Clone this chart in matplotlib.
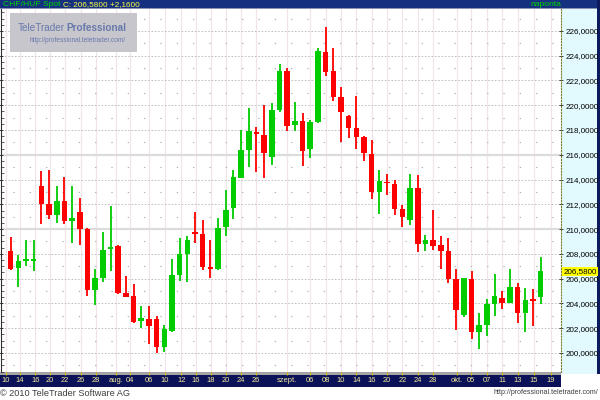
import numpy as np
import matplotlib
matplotlib.use("Agg")
import matplotlib.pyplot as plt
from matplotlib.patches import Rectangle
from matplotlib.ticker import MultipleLocator
from matplotlib.transforms import blended_transform_factory

plt.rcParams['font.family'] = ['Liberation Sans', 'DejaVu Sans']

# daily OHLC, CHF/HUF spot, mid-July to mid-October 2010
opens = [208.23, 206.89, 207.48, 207.50, 213.44, 211.99, 211.13, 212.23, 210.68, 211.40,
         209.98, 205.07, 206.09, 208.37, 208.61, 204.82, 204.58, 202.57, 202.71, 202.71,
         200.50, 201.79, 206.27, 208.02, 209.71, 209.63, 206.92, 206.76, 210.16, 211.69,
         214.14, 216.42, 217.79, 217.63, 215.80, 219.61, 222.78, 218.41, 218.75, 216.48,
         218.62, 224.33, 222.78, 220.63, 219.10, 218.16, 217.41, 216.07, 212.98, 213.82,
         213.60, 211.59, 210.76, 213.30, 208.77, 209.15, 208.69, 208.23, 205.93, 203.03,
         206.00, 201.71, 202.25, 203.92, 204.40, 204.05, 205.33, 203.19, 204.32, 204.53]
highs = [209.36, 207.88, 209.09, 209.09, 214.65, 214.78, 213.46, 214.19, 213.46, 212.50,
         210.11, 206.76, 209.76, 211.88, 208.69, 206.19, 205.60, 203.80, 203.78, 202.97,
         202.25, 207.62, 209.31, 209.44, 211.37, 210.70, 209.09, 210.92, 213.12, 214.81,
         218.00, 219.78, 218.27, 220.04, 220.15, 223.32, 222.97, 220.23, 219.37, 218.81,
         224.61, 226.32, 224.66, 221.49, 219.24, 220.74, 217.55, 217.22, 214.73, 214.46,
         213.98, 211.91, 214.41, 214.33, 209.49, 211.56, 209.47, 209.28, 206.81, 206.09,
         206.60, 203.19, 204.34, 206.41, 204.99, 206.76, 205.66, 205.28, 205.20, 207.75]
lows = [206.73, 205.33, 207.00, 206.62, 210.38, 210.81, 210.49, 210.44, 208.88, 208.69,
        204.58, 203.83, 205.74, 206.62, 204.74, 204.48, 202.44, 201.98, 200.69, 200.02,
        200.10, 201.71, 205.82, 205.74, 208.88, 206.68, 206.09, 206.73, 209.41, 210.78,
        214.11, 215.05, 214.59, 214.14, 215.21, 219.42, 217.89, 217.89, 215.13, 215.75,
        218.55, 222.38, 220.31, 217.01, 217.33, 216.48, 215.53, 212.45, 211.24, 212.72,
        211.10, 210.16, 210.30, 208.15, 208.21, 208.29, 206.78, 205.66, 201.85, 202.87,
        201.10, 200.29, 201.36, 203.00, 203.51, 204.00, 202.44, 201.71, 202.19, 203.94]
closes = [206.81, 207.43, 207.55, 207.56, 212.05, 211.13, 212.23, 210.65, 210.86, 210.03,
          205.07, 206.09, 208.34, 208.55, 204.80, 204.50, 202.52, 202.81, 202.19, 200.50,
          201.90, 206.27, 208.02, 209.09, 209.60, 206.94, 206.81, 210.11, 211.51, 214.19,
          216.39, 217.89, 217.68, 216.12, 219.61, 222.78, 218.35, 218.75, 216.34, 218.62,
          224.39, 222.72, 220.69, 219.42, 218.13, 217.41, 216.15, 212.98, 213.92, 213.71,
          211.64, 210.97, 213.30, 208.83, 209.09, 208.63, 208.23, 206.00, 203.46, 206.06,
          201.71, 202.25, 203.92, 204.62, 204.05, 205.33, 203.19, 204.26, 204.21, 206.58]

tick_labels = ["10", "14", "16", "20", "22", "26", "28", "aug.", "04", "06", "10", "12",
               "16", "18", "20", "24", "26", "szept.", "06", "08", "10", "14", "16", "20",
               "22", "24", "28", "okt.", "05", "07", "11", "13", "15", "19"]
tick_pos = [-0.6, 1.2, 3.2, 5.1, 7.1, 9.1, 11.1, 13.7, 15.5, 18.0, 20.1, 22.2,
            24.1, 26.1, 28.0, 30.0, 31.9, 36.0, 39.0, 41.0, 43.0, 45.0, 47.0, 49.0,
            51.0, 53.0, 55.0, 58.1, 59.9, 62.0, 64.0, 66.0, 68.1, 70.3]
price_ticks = list(range(200, 227, 2))
last_close = 206.58
change = 2.16

W, H = 600, 400
fig = plt.figure(figsize=(6, 4), dpi=100)


def box(x0, y0, x1, y1, color, z=-1):
    # rectangle in pixel coords, origin top-left
    fig.patches.append(Rectangle((x0 / W, 1 - y1 / H), (x1 - x0) / W, (y1 - y0) / H,
                                 transform=fig.transFigure, facecolor=color,
                                 edgecolor='none', zorder=z))


# frame pieces
box(0, 0, 600, 8, '#14307e')
box(0, 8, 600, 9, '#8c94b4')
box(561, 9, 597, 374, '#e2f9fd')
box(597, 0, 600, 374, '#0c1a5e')
box(0, 372, 561, 375, '#a4a4a4')
box(0, 375, 561, 387, '#0c1258')

ax = fig.add_axes([1 / W, 28 / H, 560 / W, 363 / H])
ax.set_xlim(-1.26, 71.65)
ax.set_ylim(198.46, 227.77)

# grid
for p in price_ticks:
    if p in (210, 216):
        ax.axhline(p, color='#dcdcdc', lw=1.6, zorder=1)
    else:
        ax.axhline(p, color='#b8b8b8', lw=0.6, ls=(0, (2, 2)), zorder=1)
for p in range(199, 228, 2):
    ax.axhline(p, color='#b0b0b0', lw=0.8, ls=(4, (1.2, 13.5)), zorder=1)
for t in tick_pos:
    ax.axvline(t, color='#f0e6ea', lw=0.9, zorder=0.5)

# candles
o = np.array(opens)
h = np.array(highs)
l = np.array(lows)
c = np.array(closes)
x = np.arange(len(o))
cols = np.where(c >= o, '#00cc00', '#ff0000')
ax.vlines(x, l, h, colors=cols, lw=1.3, zorder=3)
body = np.maximum(np.abs(c - o), 0.14)
ax.bar(x, body, 0.72, bottom=(o + c) / 2 - body / 2, color=cols, zorder=4)

# axes styling
for s in ('top', 'bottom'):
    ax.spines[s].set_visible(False)
ax.spines['left'].set_color('#303030')
ax.spines['right'].set_color('#7c7c30')
ax.spines['right'].set_linestyle(':')
ax.spines['right'].set_linewidth(0.8)

ax.set_xticks(tick_pos, tick_labels)
ax.tick_params(axis='x', colors='#d4c000', labelcolor='#f4ec9a', labelsize=5.4,
               length=2, width=0.8, pad=1.5, direction='out')

ax.yaxis.tick_right()
ax.set_yticks(price_ticks, [f"{p},0000" for p in price_ticks])
ax.tick_params(axis='y', which='major', left=True, right=True, labelleft=False,
               labelright=True, direction='inout', length=3, width=0.6,
               color='#202020', labelsize=5.8, pad=2)
ax.yaxis.set_minor_locator(MultipleLocator(0.5))
ax.tick_params(axis='y', which='minor', left=True, right=False, direction='in',
               length=2, width=0.5, color='#202020')

trans = blended_transform_factory(ax.transAxes, ax.transData)
ax.text(1.004, last_close, f"{last_close:.4f}".replace('.', ','), transform=trans,
        ha='left', va='center', fontsize=5.8, clip_on=False, zorder=10,
        bbox=dict(boxstyle='square,pad=0.15', fc='#ffff00', ec='none'))

# header
fig.text(3 / W, 1 - 4.5 / H, "CHF/HUF Spot", color='#00d800', fontsize=6.1, va='center')
fig.text(63 / W, 1 - 4.5 / H,
         f"C: {last_close:.4f} +{change:.4f}".replace('.', ','),
         color='#ffff40', fontsize=5.9, va='center')
fig.text(530 / W, 1 - 4.5 / H, "naponta", color='#00d800', fontsize=6.1, va='center')

# watermark
box(10, 13, 137, 52, '#c6c6cc', z=2)
fig.text(18 / W, 1 - 28 / H, "TeleTrader", color='#6878ac', fontsize=7.2,
         va='center', zorder=3)
fig.text(66 / W, 1 - 28 / H, "Professional", color='#6878ac', fontsize=7.2,
         fontweight='bold', va='center', zorder=3)
fig.text(30 / W, 1 - 40 / H, "http://professional.teletrader.com/", color='#6878ac',
         fontsize=4.7, va='center', zorder=3)

# footer
fig.text(0.5 / W, 1 - 393 / H, "\u00a9 2010 TeleTrader Software AG", color='#3c3c3c',
         fontsize=6.6, va='center')
fig.text(598 / W, 1 - 393 / H, "http://professional.teletrader.com/", color='#3c3c3c',
         fontsize=5.0, va='center', ha='right')

fig.savefig("out.png", dpi=100)
